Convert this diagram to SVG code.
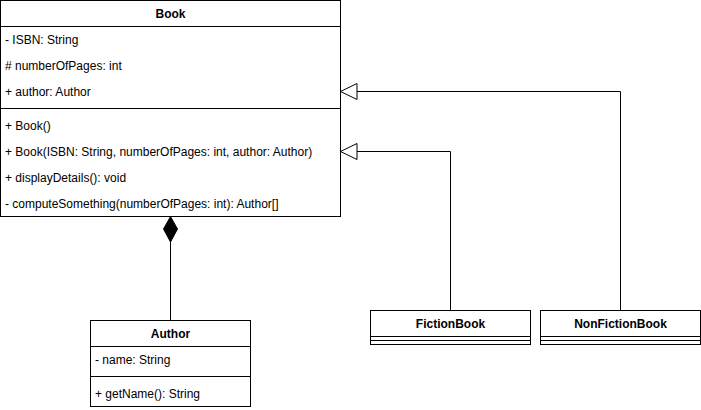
<svg xmlns="http://www.w3.org/2000/svg" width="701" height="410" viewBox="0 0 701 410">
<style>
.box{fill:#fff;stroke:#000;stroke-width:1}
.ln{stroke:#000;stroke-width:1;fill:none}
.t{font-family:"Liberation Sans",Arial,sans-serif;font-size:12px;fill:#000}
.h{font-family:"Liberation Sans",Arial,sans-serif;font-size:12px;font-weight:bold;fill:#000;text-anchor:middle}
</style>
<rect width="701" height="410" fill="#fff"/>
<g id="connectors">
<path class="ln" d="M170.5,242 V320.5"/>
<polygon points="170.5,216.5 177.5,229 170.5,242 163.5,229" fill="#000" stroke="#000"/>
<path class="ln" d="M620.5,310 V91.5 H357"/>
<polygon points="340.5,91.5 357,83.5 357,99.5" fill="#fff" stroke="#000"/>
<path class="ln" d="M450.5,310 V151.5 H357"/>
<polygon points="340.5,151.5 357,143.5 357,159.5" fill="#fff" stroke="#000"/>
</g>
<g id="Book">
<rect class="box" x="0.5" y="0.5" width="340" height="216"/>
<line class="ln" x1="0.5" y1="26.5" x2="340.5" y2="26.5"/>
<line class="ln" x1="0.5" y1="108.5" x2="340.5" y2="108.5"/>
<text class="h" x="170.5" y="18">Book</text>
<text class="t" x="5" y="44">- ISBN: String</text>
<text class="t" x="5" y="70"># numberOfPages: int</text>
<text class="t" x="5" y="96">+ author: Author</text>
<text class="t" x="5" y="130">+ Book()</text>
<text class="t" x="5" y="156">+ Book(ISBN: String, numberOfPages: int, author: Author)</text>
<text class="t" x="5" y="182">+ displayDetails(): void</text>
<text class="t" x="5" y="208">- computeSomething(numberOfPages: int): Author[]</text>
</g>
<g id="Author">
<rect class="box" x="90.5" y="320.5" width="160" height="86"/>
<line class="ln" x1="90.5" y1="346.5" x2="250.5" y2="346.5"/>
<line class="ln" x1="90.5" y1="376.5" x2="250.5" y2="376.5"/>
<text class="h" x="170.5" y="338">Author</text>
<text class="t" x="95" y="364">- name: String</text>
<text class="t" x="95" y="398">+ getName(): String</text>
</g>
<g id="FictionBook">
<rect class="box" x="370.5" y="310.5" width="160" height="34"/>
<line class="ln" x1="370.5" y1="336.5" x2="530.5" y2="336.5"/>
<line class="ln" x1="370.5" y1="340.5" x2="530.5" y2="340.5"/>
<text class="h" x="450.5" y="328">FictionBook</text>
</g>
<g id="NonFictionBook">
<rect class="box" x="540.5" y="310.5" width="160" height="34"/>
<line class="ln" x1="540.5" y1="336.5" x2="700.5" y2="336.5"/>
<line class="ln" x1="540.5" y1="340.5" x2="700.5" y2="340.5"/>
<text class="h" x="620.5" y="328">NonFictionBook</text>
</g>
</svg>
